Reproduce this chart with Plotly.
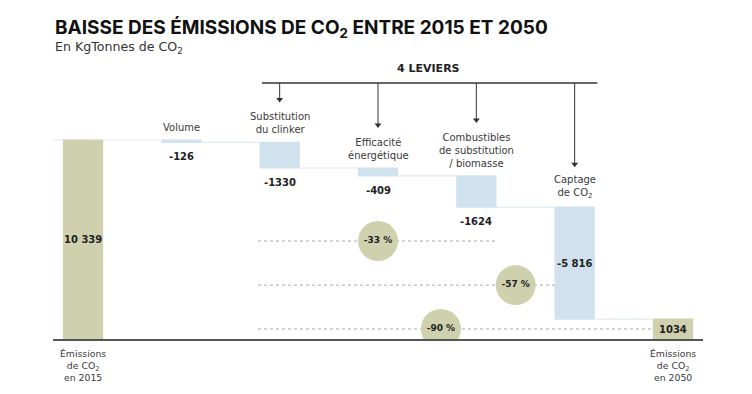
import plotly.graph_objects as go

# ---- data ----
top_labels = ["", "Volume", "Substitution<br>du clinker", "Efficacité<br>énergétique",
              "Combustibles<br>de substitution<br>/ biomasse", "Captage<br>de CO<sub>2</sub>", ""]
bottom_labels = ["Émissions<br>de CO<sub>2</sub><br>en 2015", "", "", "", "", "",
                 "Émissions<br>de CO<sub>2</sub><br>en 2050"]
values = [10339, -126, -1330, -409, -1624, -5816, 1034]
measures = ["absolute", "relative", "relative", "relative", "relative", "relative", "total"]
value_labels = ["10 339", "-126", "-1330", "-409", "-1624", "-5 816", "1034"]
levers = [2, 3, 4, 5]  # indices of the 4 levers
pct_labels = ["-33 %", "-57 %", "-90 %"]
pct_levels = [5090, 2800, 520]
pct_circle_x = [3.0, 4.4, 3.64]
pct_line_x0 = [1.78, 1.78, 1.78]
pct_line_x1 = [4.22, 4.80, 5.80]

FONT = "DejaVu Sans"
TITLE_FONT = "Inter"
GREEN = "#cfd1ae"
BLUE = "#d0e2ed"

x = list(range(len(values)))
tops, bottoms = [], []
run = 0
for v, m in zip(values, measures):
    if m == "absolute":
        tops.append(v); bottoms.append(0); run = v
    elif m == "total":
        tops.append(run); bottoms.append(0)
    else:
        tops.append(run); run += v; bottoms.append(run)

Y_MAX = 14495
PLOT_H = 279
px_per_unit = PLOT_H / Y_MAX

inside = [m != "relative" or i == 5 for i, m in enumerate(measures)]

fig = go.Figure()
fig.add_trace(go.Waterfall(
    x=x, y=values, measure=measures,
    width=0.41, textinfo="none",
    totals=dict(marker=dict(color=GREEN)),
    decreasing=dict(marker=dict(color=BLUE)),
    increasing=dict(marker=dict(color=BLUE)),
    connector=dict(line=dict(color="#dfeaf1", width=1.2), mode="between"),
    hoverinfo="skip", showlegend=False,
))

# dotted percentage lines
for lvl, x0, x1 in zip(pct_levels, pct_line_x0, pct_line_x1):
    fig.add_trace(go.Scatter(x=[x0, x1], y=[lvl, lvl], mode="lines",
                             line=dict(color="#a8a8a8", width=1, dash="dot"),
                             hoverinfo="skip", showlegend=False))
# circles
fig.add_trace(go.Scatter(x=pct_circle_x, y=pct_levels, mode="markers+text",
                         marker=dict(size=40, color=GREEN, line=dict(width=0)),
                         text=pct_labels, textposition="middle center",
                         textfont=dict(family=FONT, size=9, color="#222", weight=700),
                         hoverinfo="skip", showlegend=False))

LEVER_Y = 13300
arr_x, arr_y, tip_x, tip_y = [], [], [], []
for i in levers:
    nlines = top_labels[i].count("<br>") + 1
    tip = tops[i] + (5 + nlines * 13 + 9) / px_per_unit
    arr_x += [i, i, None]
    arr_y += [LEVER_Y, tip + 3 / px_per_unit, None]
    tip_x.append(i); tip_y.append(tip + 3 / px_per_unit)
fig.add_trace(go.Scatter(x=arr_x, y=arr_y, mode="lines", line=dict(color="#333", width=1),
                         hoverinfo="skip", showlegend=False))
fig.add_trace(go.Scatter(x=tip_x, y=tip_y, mode="markers",
                         marker=dict(symbol="triangle-down", size=6, color="#333"),
                         hoverinfo="skip", showlegend=False))

annotations = []
for i in range(len(values)):
    if inside[i]:
        annotations.append(dict(x=i, y=(tops[i] + bottoms[i]) / 2,
                                text="<b>" + value_labels[i] + "</b>", showarrow=False,
                                yanchor="middle", font=dict(family=FONT, size=10, color="#222")))
    else:
        annotations.append(dict(x=i, y=bottoms[i], text="<b>" + value_labels[i] + "</b>",
                                showarrow=False, yanchor="top", yshift=-7,
                                font=dict(family=FONT, size=10, color="#222")))
for i, t in enumerate(top_labels):
    if t:
        annotations.append(dict(x=i, y=tops[i], text=t, showarrow=False, yanchor="bottom",
                                yshift=5, font=dict(family=FONT, size=10, color="#3a3a3a")))
for i, t in enumerate(bottom_labels):
    if t:
        annotations.append(dict(x=i, y=0, text=t, showarrow=False, yanchor="top",
                                yshift=-7, font=dict(family=FONT, size=9.3, color="#3a3a3a")))

annotations.append(dict(x=3.51, y=14079, text="<b>4 LEVIERS</b>", showarrow=False,
                        font=dict(family=FONT, size=11, color="#222")))
annotations.append(dict(xref="paper", yref="paper", x=0, y=1.112, xanchor="left",
                        yanchor="middle", showarrow=False,
                        text="<b>BAISSE DES ÉMISSIONS DE CO<sub>2</sub> ENTRE 2015 ET 2050</b>",
                        font=dict(family=TITLE_FONT, size=19, color="#111")))
annotations.append(dict(xref="paper", yref="paper", x=0, y=1.046, xanchor="left",
                        yanchor="middle", showarrow=False,
                        text="En KgTonnes de CO<sub>2</sub>",
                        font=dict(family=FONT, size=12.6, color="#333")))

shapes = [
    dict(type="line", xref="x", yref="y", x0=1.82, x1=5.23, y0=LEVER_Y, y1=LEVER_Y,
         line=dict(color="#333", width=1.5)),
    dict(type="line", xref="paper", yref="y", x0=0, x1=0.05, y0=values[0], y1=values[0],
         line=dict(color="#dfeaf1", width=1.2), layer="below"),
]

fig.update_layout(
    width=752, height=394,
    margin=dict(l=53, r=49, t=60, b=55),
    paper_bgcolor="white", plot_bgcolor="white",
    xaxis=dict(range=[-0.305, 6.305], showgrid=False, zeroline=False, showticklabels=False,
               ticks="", showline=True, linecolor="#555", linewidth=2, fixedrange=True),
    yaxis=dict(range=[0, Y_MAX], visible=False, fixedrange=True),
    annotations=annotations, shapes=shapes,
    font=dict(family=FONT),
)
fig.write_html("out.html", config={"displayModeBar": False},
               post_script="document.body.style.margin='0';")
